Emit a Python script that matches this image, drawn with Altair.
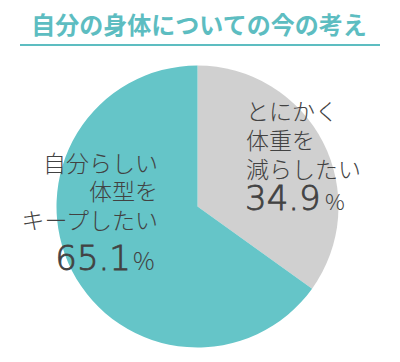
import altair as alt
import pandas as pd

categories = ["とにかく体重を減らしたい", "自分らしい体型をキープしたい"]
values = [34.9, 65.1]
colors = ["#d0d0d0", "#65c5c8"]
title_text = "自分の身体についての今の考え"
right_lines = ["とにかく", "体重を", "減らしたい"]
left_lines = ["自分らしい", "体型を", "キープしたい"]
right_pct = "34.9"
left_pct = "65.1"

FONT = "Noto Sans CJK JP"
NUMFONT = "DejaVu Sans"
OX, OY = 8, 8  # page margin offset
TXT = "#424242"

df = pd.DataFrame({"cat": categories, "val": values, "ord": [0, 1]})

pie = alt.Chart(df).mark_arc(outerRadius=141, stroke=None).encode(
    theta=alt.Theta("val:Q", stack=True),
    order=alt.Order("ord:Q"),
    color=alt.Color("cat:N", scale=alt.Scale(domain=categories, range=colors), legend=None),
    x=alt.value(197.5 - OX),
    y=alt.value(206.5 - OY),
)

base = alt.Chart(pd.DataFrame({"d": [0]}))

layers = [pie]

# title
layers.append(base.mark_text(font=FONT, fontSize=24, fontWeight="bold", color="#5dbdc1",
                             align="center", baseline="middle").encode(
    x=alt.value(199 - OX), y=alt.value(27 - OY), text=alt.value(title_text)))
layers.append(base.mark_rule(color="#5dbdc1", strokeWidth=2).encode(
    x=alt.value(20 - OX), x2=alt.value(380 - OX), y=alt.value(45 - OY)))

# right label
for line, yy in zip(right_lines, [113, 142, 171]):
    layers.append(base.mark_text(font=FONT, fontSize=23, fontWeight=300, color=TXT,
                                 align="left", baseline="middle").encode(
        x=alt.value(246 - OX), y=alt.value(yy - OY), text=alt.value(line)))
layers.append(base.mark_text(font=NUMFONT, fontSize=34, fontWeight=200, color=TXT,
                             stroke=TXT, strokeWidth=0.8,
                             align="left", baseline="alphabetic").encode(
    x=alt.value(245 - OX), y=alt.value(210 - OY), text=alt.value(right_pct)))
layers.append(base.mark_text(font=FONT, fontSize=22, fontWeight=300, color=TXT,
                             align="left", baseline="alphabetic").encode(
    x=alt.value(325 - OX), y=alt.value(210 - OY), text=alt.value("%")))

# left label
for line, yy in zip(left_lines, [165, 193, 222]):
    layers.append(base.mark_text(font=FONT, fontSize=23, fontWeight=300, color=TXT,
                                 align="right", baseline="middle").encode(
        x=alt.value(158 - OX), y=alt.value(yy - OY), text=alt.value(line)))
layers.append(base.mark_text(font=NUMFONT, fontSize=34, fontWeight=200, color=TXT,
                             stroke=TXT, strokeWidth=0.8,
                             align="right", baseline="alphabetic").encode(
    x=alt.value(131 - OX), y=alt.value(270 - OY), text=alt.value(left_pct)))
layers.append(base.mark_text(font=FONT, fontSize=24, fontWeight=300, color=TXT,
                             align="left", baseline="alphabetic").encode(
    x=alt.value(133 - OX), y=alt.value(270 - OY), text=alt.value("%")))

chart = alt.layer(*layers).properties(
    width=384, height=346, padding=0, autosize=alt.AutoSizeParams(type="none"),
    background="white",
).configure_view(stroke=None)

chart.save("out.html", embed_options={"renderer": "svg", "actions": False})
